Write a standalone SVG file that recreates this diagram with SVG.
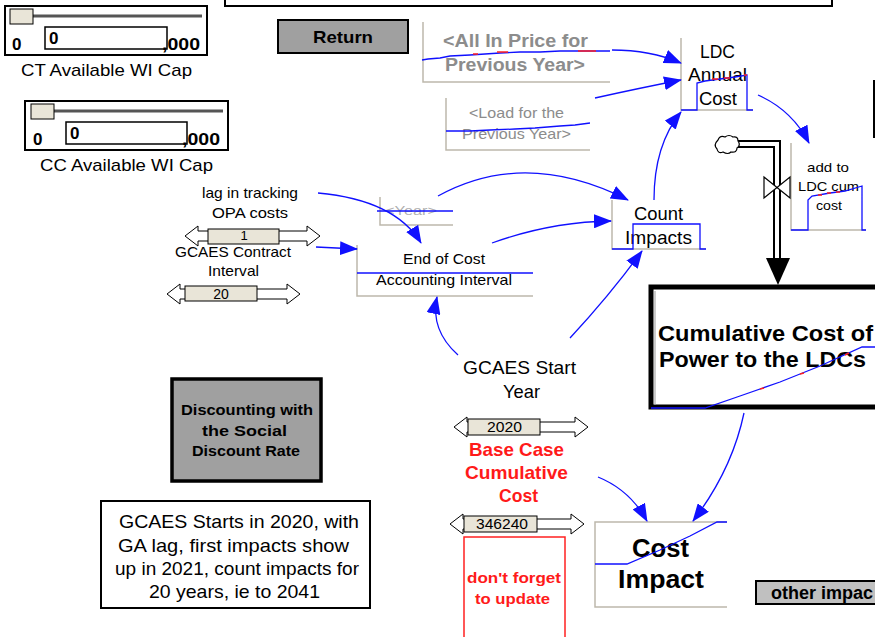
<svg xmlns="http://www.w3.org/2000/svg" width="875" height="637" viewBox="0 0 875 637">
<defs>
<style>
text{font-family:"Liberation Sans",Arial,sans-serif;fill:#000}
.c{text-anchor:middle}
.b{font-weight:bold}
.shadow{fill:#8c8c8c}
.warn{fill:#ff1a1a}
.frame{fill:none;stroke:#bdb8ac;stroke-width:1.5}
.graph{fill:none;stroke:#1010ff;stroke-width:1.3}
.red{fill:none;stroke:#ff2020;stroke-width:1.5}
.link{fill:none;stroke:#1010ff;stroke-width:1.3;marker-end:url(#ah)}
.thumb{fill:#e9e5d8;stroke:#000;stroke-width:1}
.darrow{fill:#fff;stroke:#000;stroke-width:1}
.btn{fill:#a0a0a0;stroke:#000}
</style>
<marker id="ah" markerWidth="18" markerHeight="14" refX="17" refY="7" orient="auto" markerUnits="userSpaceOnUse">
<path d="M0,0 L18,7 L0,14 Z" fill="#1010ff"/>
</marker>
</defs>
<rect width="875" height="637" fill="#fff"/>

<!-- top panel edge -->
<rect x="225" y="-10" width="607" height="16" fill="#fff" stroke="#000" stroke-width="2"/>

<!-- CT slider -->
<g id="ct-slider">
<rect x="5" y="6" width="202" height="49" fill="#fff" stroke="#000" stroke-width="2"/>
<line x1="33" y1="16" x2="202" y2="16" stroke="#555" stroke-width="3"/>
<rect x="10" y="9" width="23" height="15" class="thumb"/>
<text x="12" y="50" class="b" font-size="17">0</text>
<rect x="45" y="27" width="122" height="22" fill="#fff" stroke="#000" stroke-width="1.5"/>
<text x="49" y="44" class="b" font-size="17">0</text>
<text x="162" y="50" class="b" font-size="17" textLength="38" lengthAdjust="spacingAndGlyphs">,000</text>
<text x="106.5" y="76" class="c" font-size="17" textLength="171" lengthAdjust="spacingAndGlyphs">CT Available WI Cap</text>
</g>

<!-- CC slider -->
<g id="cc-slider">
<rect x="25" y="101" width="203" height="49" fill="#fff" stroke="#000" stroke-width="2"/>
<line x1="54" y1="111" x2="223" y2="111" stroke="#555" stroke-width="3"/>
<rect x="31" y="104" width="23" height="15" class="thumb"/>
<text x="33" y="145" class="b" font-size="17">0</text>
<rect x="66" y="122" width="121" height="22" fill="#fff" stroke="#000" stroke-width="1.5"/>
<text x="70" y="139" class="b" font-size="17">0</text>
<text x="182" y="145" class="b" font-size="17" textLength="38" lengthAdjust="spacingAndGlyphs">,000</text>
<text x="126.5" y="171" class="c" font-size="17" textLength="173" lengthAdjust="spacingAndGlyphs">CC Available WI Cap</text>
</g>

<!-- Return button -->
<g id="return">
<rect x="278" y="20" width="130" height="33" class="btn" stroke-width="2"/>
<text x="343" y="43" class="c b" font-size="17" textLength="60" lengthAdjust="spacingAndGlyphs">Return</text>
</g>

<!-- All In Price shadow variable -->
<g id="all-in-price">
<path d="M423,22 V82 H610" class="frame"/>
<text x="515.5" y="47" class="c b shadow" font-size="17.5" textLength="145" lengthAdjust="spacingAndGlyphs">&lt;All In Price for</text>
<text x="515" y="71" class="c b shadow" font-size="17.5" textLength="140" lengthAdjust="spacingAndGlyphs">Previous Year&gt;</text>
<path d="M422,60 L428,59 L440,58 L450,56 L470,55 L485,54 L500,53 L520,52 L540,52 L560,51 L610,51" class="graph"/>
<path d="M473,54 L478,54 M497,52 L508,52 M578,51 L596,51" class="red"/>
</g>

<!-- Load shadow variable -->
<g id="load-prev">
<path d="M446,98 V150 H590" class="frame"/>
<text x="516.5" y="118" class="c shadow" font-size="14.5" textLength="95" lengthAdjust="spacingAndGlyphs">&lt;Load for the</text>
<text x="516.5" y="139" class="c shadow" font-size="14.5" textLength="109" lengthAdjust="spacingAndGlyphs">Previous Year&gt;</text>
<path d="M446,131 L470,131 L490,130 L515,129 L535,128 L560,126 L575,125 L590,123" class="graph"/>
</g>

<!-- LDC Annual Cost -->
<g id="ldc-annual-cost">
<path d="M681,38 V110 H753" class="frame"/>
<text x="717.5" y="58" class="c" font-size="19" textLength="35" lengthAdjust="spacingAndGlyphs">LDC</text>
<text x="717.5" y="81" class="c" font-size="19" textLength="59" lengthAdjust="spacingAndGlyphs">Annual</text>
<text x="718" y="105" class="c" font-size="19" textLength="38" lengthAdjust="spacingAndGlyphs">Cost</text>
<path d="M681,110 H697 V83 L705,81 L720,79 L735,77 L747,75 V110 H753" class="graph"/>
<path d="M712,79 L718,79 M724,78 L730,78 M744,75 L747,75" class="red"/>
</g>

<!-- add to LDC cum cost (flow rate) -->
<g id="add-to-ldc">
<path d="M791,143 V230 H866" class="frame"/>
<text x="828" y="172" class="c" font-size="13.5" textLength="42" lengthAdjust="spacingAndGlyphs">add to</text>
<text x="828.5" y="191" class="c" font-size="13.5" textLength="61" lengthAdjust="spacingAndGlyphs">LDC cum</text>
<text x="829" y="210" class="c" font-size="13.5" textLength="26" lengthAdjust="spacingAndGlyphs">cost</text>
<path d="M791,230 H808 V200 L812,196 L830,193 L845,191 L862,186 V230 H866" class="graph"/>
<path d="M818,195 L822,195 M827,193 L831,193 M836,192 L840,192" class="red"/>
</g>

<!-- Count Impacts -->
<g id="count-impacts">
<path d="M612,200 V249 H706" class="frame"/>
<text x="658.5" y="220" class="c" font-size="19" textLength="49" lengthAdjust="spacingAndGlyphs">Count</text>
<text x="658.5" y="244" class="c" font-size="19" textLength="67" lengthAdjust="spacingAndGlyphs">Impacts</text>
<path d="M612,249 H633 V224 H700 V249 H706" class="graph"/>
</g>

<!-- Year shadow variable -->
<g id="year">
<path d="M380,197 V225 H453" class="frame"/>
<text x="411" y="215" class="c shadow" font-size="12.5" fill-opacity="0.7" textLength="52" lengthAdjust="spacingAndGlyphs">&lt;Year&gt;</text>
<path d="M377,211 H453" class="graph"/>
</g>

<!-- End of Cost Accounting Interval -->
<g id="end-of-cost">
<path d="M357,245 V296 H533" class="frame"/>
<text x="444" y="264" class="c" font-size="15" textLength="82" lengthAdjust="spacingAndGlyphs">End of Cost</text>
<text x="444" y="285" class="c" font-size="15" textLength="136" lengthAdjust="spacingAndGlyphs">Accounting Interval</text>
<path d="M357,273 H533" class="graph"/>
</g>

<!-- lag in tracking OPA costs -->
<g id="lag-tracking">
<text x="250" y="198" class="c" font-size="15" textLength="96" lengthAdjust="spacingAndGlyphs">lag in tracking</text>
<text x="250" y="218" class="c" font-size="15" textLength="76" lengthAdjust="spacingAndGlyphs">OPA costs</text>
</g>

<!-- GCAES Contract Interval -->
<g id="contract-interval">
<text x="233" y="257" class="c" font-size="15" textLength="116" lengthAdjust="spacingAndGlyphs">GCAES Contract</text>
<text x="233.5" y="276" class="c" font-size="15" textLength="51" lengthAdjust="spacingAndGlyphs">Interval</text>
<path d="M167,294 L180,284 L180,289 L287,289 L287,284 L300,294 L287,304 L287,299 L180,299 L180,304 Z" class="darrow"/>
<rect x="185" y="286" width="72" height="15" class="thumb"/>
<text x="221" y="299" class="c" font-size="14">20</text>
</g>

<!-- lag slider, drawn over the contract label -->
<g id="lag-slider">
<path d="M185,236 L198,226 L198,231 L307,231 L307,226 L320,236 L307,246 L307,241 L198,241 L198,246 Z" class="darrow"/>
<rect x="208" y="229" width="71" height="15" class="thumb"/>
<text x="244" y="240" class="c" font-size="13">1</text>
</g>

<!-- GCAES Start Year -->
<g id="gcaes-start">
<text x="519.5" y="374" class="c" font-size="19" textLength="113" lengthAdjust="spacingAndGlyphs">GCAES Start</text>
<text x="521.5" y="398" class="c" font-size="19" textLength="37" lengthAdjust="spacingAndGlyphs">Year</text>
<path d="M454,427 L467,417 L467,422 L575,422 L575,417 L588,427 L575,437 L575,432 L467,432 L467,437 Z" class="darrow"/>
<rect x="468" y="419" width="72" height="16" class="thumb"/>
<text x="504.5" y="432" class="c" font-size="14" textLength="35" lengthAdjust="spacingAndGlyphs">2020</text>
</g>

<!-- Base Case Cumulative Cost -->
<g id="base-case">
<text x="516.5" y="456" class="c b warn" font-size="19" textLength="95" lengthAdjust="spacingAndGlyphs">Base Case</text>
<text x="516.5" y="479" class="c b warn" font-size="19" textLength="103" lengthAdjust="spacingAndGlyphs">Cumulative</text>
<text x="518.5" y="502" class="c b warn" font-size="19" textLength="39" lengthAdjust="spacingAndGlyphs">Cost</text>
<path d="M450,524 L463,514 L463,519 L571,519 L571,514 L584,524 L571,534 L571,529 L463,529 L463,534 Z" class="darrow"/>
<rect x="464" y="516" width="73" height="16" class="thumb"/>
<text x="502" y="529" class="c" font-size="14" textLength="52" lengthAdjust="spacingAndGlyphs">346240</text>
</g>

<!-- reminder note -->
<g id="update-note">
<rect x="464" y="537" width="101" height="110" fill="none" stroke="#ff2020" stroke-width="1.5"/>
<text x="514" y="583" class="c b warn" font-size="15" textLength="94" lengthAdjust="spacingAndGlyphs">don't forget</text>
<text x="512.5" y="604" class="c b warn" font-size="15" textLength="75" lengthAdjust="spacingAndGlyphs">to update</text>
</g>

<!-- Cumulative Cost of Power to the LDCs (stock) -->
<g id="cumulative-cost">
<rect x="651" y="287" width="240" height="120" fill="#fff" stroke="#000" stroke-width="5"/>
<line x1="655" y1="291" x2="655" y2="405" stroke="#999" stroke-width="1"/>
<text x="765.5" y="341" class="c b" font-size="22.5" textLength="215" lengthAdjust="spacingAndGlyphs">Cumulative Cost of</text>
<text x="762.5" y="367" class="c b" font-size="22.5" textLength="207" lengthAdjust="spacingAndGlyphs">Power to the LDCs</text>
<path d="M651,408 H705 L740,396 L780,382 L820,366 L862,347 H875" class="graph"/>
<path d="M760,389 L764,388 M800,374 L804,373 M845,355 L849,353" class="red"/>
</g>

<!-- Cost Impact -->
<g id="cost-impact">
<path d="M727,522 H595 V607 H727" class="frame"/>
<text x="660.5" y="557" class="c b" font-size="26" textLength="57" lengthAdjust="spacingAndGlyphs">Cost</text>
<text x="661" y="588" class="c b" font-size="26" textLength="86" lengthAdjust="spacingAndGlyphs">Impact</text>
<path d="M595,564 H627 L660,550 L690,536 L717,522 H727" class="graph"/>
</g>

<!-- Discounting button -->
<g id="discounting">
<rect x="172" y="379" width="149" height="102" class="btn" stroke-width="3.5"/>
<text x="247" y="415" class="c b" font-size="15" textLength="132" lengthAdjust="spacingAndGlyphs">Discounting with</text>
<text x="244.5" y="436" class="c b" font-size="15" textLength="85" lengthAdjust="spacingAndGlyphs">the Social</text>
<text x="246" y="456" class="c b" font-size="15" textLength="108" lengthAdjust="spacingAndGlyphs">Discount Rate</text>
</g>

<!-- Timeline note -->
<g id="timeline-note">
<rect x="101" y="501" width="269" height="107" fill="#fff" stroke="#000" stroke-width="2"/>
<text x="239" y="528" class="c" font-size="18.5" textLength="240" lengthAdjust="spacingAndGlyphs">GCAES Starts in 2020, with</text>
<text x="233.5" y="552" class="c" font-size="18.5" textLength="231" lengthAdjust="spacingAndGlyphs">GA lag, first impacts show</text>
<text x="237" y="575" class="c" font-size="18.5" textLength="244" lengthAdjust="spacingAndGlyphs">up in 2021, count impacts for</text>
<text x="234.5" y="598" class="c" font-size="18.5" textLength="171" lengthAdjust="spacingAndGlyphs">20 years, ie to 2041</text>
</g>

<!-- other impacts button -->
<g id="other-impacts">
<rect x="756" y="581" width="130" height="23" fill="#c0c0c0" stroke="#000" stroke-width="2"/>
<text x="771" y="599" class="b" font-size="18">other impac</text>
</g>

<!-- edge of a box beyond the right margin -->
<line x1="874" y1="80" x2="874" y2="138" stroke="#000" stroke-width="2"/>

<!-- flow pipe into the stock -->
<g id="flow-pipe">
<path d="M738,144 H777 V262" fill="none" stroke="#000" stroke-width="8"/>
<path d="M738,144 H777 V262" fill="none" stroke="#fff" stroke-width="4"/>
<polygon points="766,258 790,258 778,285" fill="#000"/>
<path d="M764,177 L790,198 V177 L764,198 Z" fill="#fff" stroke="#000" stroke-width="1.2"/>
<path d="M718,140 q2,-5 7,-3 q4,-3 8,0 q5,-1 5,4 q3,4 -1,7 q0,5 -6,4 q-3,3 -8,0 q-5,2 -6,-3 q-4,-4 1,-9 Z" fill="#fff" stroke="#000" stroke-width="1.2"/>
</g>

<!-- connectors -->
<g id="connectors">
<path d="M612,50 Q650,50 681,63" class="link"/>
<path d="M595,98 Q640,88 681,80" class="link"/>
<path d="M654,200 Q654,145 681,112" class="link"/>
<path d="M758,95 Q792,110 809,143" class="link"/>
<path d="M318,193 Q395,200 421,243" class="link"/>
<path d="M316,247 L357,249" class="link"/>
<path d="M438,196 Q525,148 628,200" class="link"/>
<path d="M492,243 Q550,222 611,221" class="link"/>
<path d="M458,355 Q430,330 437,297" class="link"/>
<path d="M570,338 Q610,295 642,251" class="link"/>
<path d="M744,413 Q732,470 693,521" class="link"/>
<path d="M598,477 Q630,490 647,521" class="link"/>
</g>
</svg>
